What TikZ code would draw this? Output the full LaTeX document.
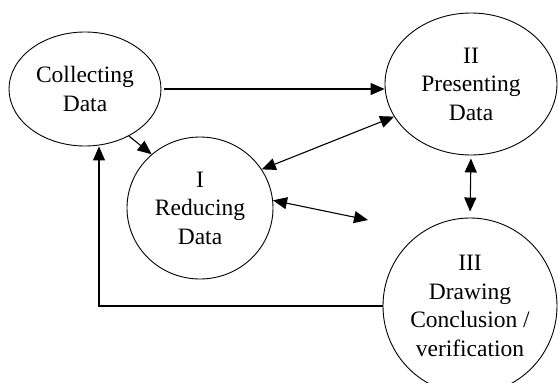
\documentclass[tikz,border=0pt]{standalone}
\usepackage{fontspec}
\setmainfont{Liberation Serif}
\usepackage{tikz}
\usetikzlibrary{calc,shapes.geometric,arrows.meta}
\tikzset{
	stage/.style={draw, ellipse, line width=0.9pt, inner sep=0pt, align=center,
		font=\fontsize{23.5}{28.5}\selectfont},
	arr/.style={line width=1.1pt, -{Triangle[length=14pt,width=12pt]}},
	twoarr/.style={line width=1.1pt, {Triangle[length=14pt,width=12pt]}-{Triangle[length=14pt,width=12pt]}}
}

\begin{document}
\begin{tikzpicture}[x=1pt,y=-1pt]
		%%%%% START %%%%%
		\useasboundingbox (0, 0) rectangle (558, 383);
		
		\node[stage, minimum width=152pt, minimum height=114pt] (collect) at (85, 89) {Collecting\\Data};
		\node[stage, minimum width=172pt, minimum height=142pt] (present) at (471, 84) {II\\Presenting\\Data};
		\node[stage, minimum width=146pt, minimum height=142pt] (reduce) at (200, 208) {I\\Reducing\\Data};
		\node[stage, minimum width=174pt, minimum height=176pt] (concl) at (470, 306) {III\\Drawing\\Conclusion /\\verification};
		
		\coordinate (loose) at (368, 220);
		\coordinate (corner) at (99, 306);
		
		\draw[arr] ($(collect.east)+(3,0)$) -- (collect.east -| present.west);
		\draw[arr] (collect.-47) -- (reduce.132);
		\draw[twoarr] (reduce.32) -- (present.203);
		\draw[twoarr] (reduce.6) -- (loose);
		\draw[twoarr, shorten <=3pt, shorten >=6pt] (present.south) -- (concl.north);
		\draw[arr] (concl.west) -- (corner) -- (corner |- collect.south);
		
		%%%%% END %%%%%
	\end{tikzpicture}
\end{document}
